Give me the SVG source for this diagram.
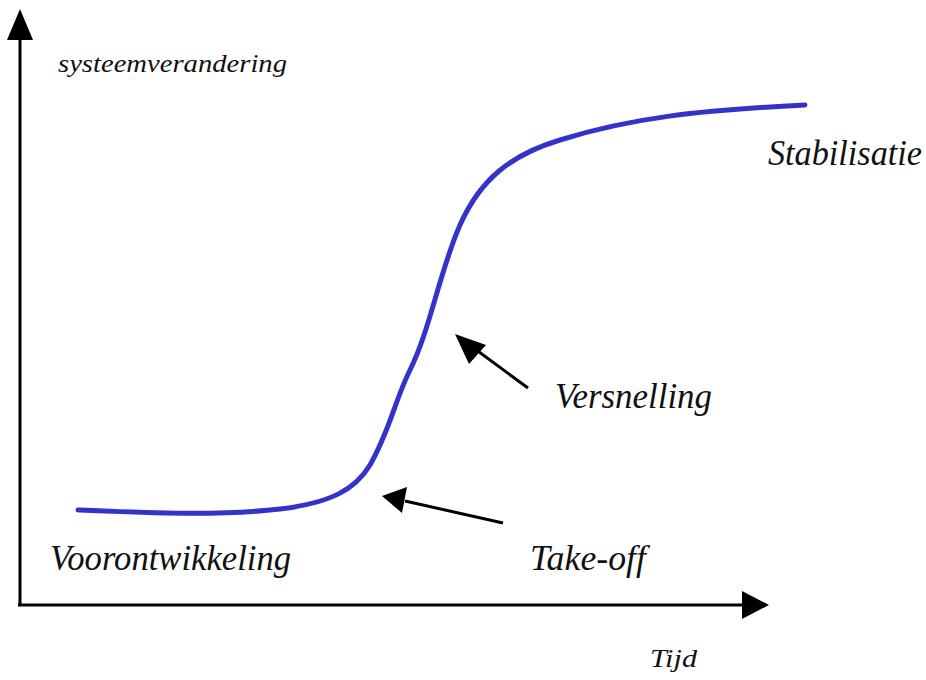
<svg xmlns="http://www.w3.org/2000/svg" width="926" height="680" viewBox="0 0 926 680">
<style>
.axis{stroke:#000;stroke-width:3;fill:none;}
.ptr{stroke:#000;stroke-width:3;fill:none;}
</style>
<rect width="926" height="680" fill="#fff"/>
<g id="connectors">
<line class="axis" x1="20" y1="606" x2="20" y2="38"/>
<polygon points="20,9 7,40 33,40" fill="#000"/>
<line class="axis" x1="18" y1="605" x2="745" y2="605"/>
<polygon points="769,605 742,591 742,619" fill="#000"/>
<line class="ptr" x1="528" y1="388" x2="475" y2="349"/>
<polygon points="455,334 486,345 469,364" fill="#000"/>
<line class="ptr" x1="503" y1="523" x2="405" y2="501"/>
<polygon points="382,496 407,487 402,513" fill="#000"/>
</g>
<g id="curve">
<path d="M78,510 C150,513 220,516 280,509 C330,503 355,490 370,465 C390,430 395,400 410,370 C430,330 440,270 460,225 C480,180 510,155 560,140 C630,118 700,110 805,105" fill="none" stroke="#3333cc" stroke-width="5" stroke-linecap="round"/>
</g>
<g font-family="Liberation Serif, serif" font-style="italic" fill="#111">
<g id="label-y"><text x="58" y="72" font-size="25" textLength="229" lengthAdjust="spacingAndGlyphs">systeemverandering</text></g>
<g id="label-x"><text x="650" y="667" font-size="26" textLength="47" lengthAdjust="spacingAndGlyphs">Tijd</text></g>
<g id="stabilisatie"><text x="768" y="165" font-size="35" textLength="154" lengthAdjust="spacingAndGlyphs">Stabilisatie</text></g>
<g id="versnelling"><text x="555" y="408" font-size="35" textLength="157" lengthAdjust="spacingAndGlyphs">Versnelling</text></g>
<g id="takeoff"><text x="530" y="570" font-size="35" textLength="116" lengthAdjust="spacingAndGlyphs">Take-off</text></g>
<g id="voorontwikkeling"><text x="50" y="570" font-size="35" textLength="241" lengthAdjust="spacingAndGlyphs">Voorontwikkeling</text></g>
</g>
</svg>
